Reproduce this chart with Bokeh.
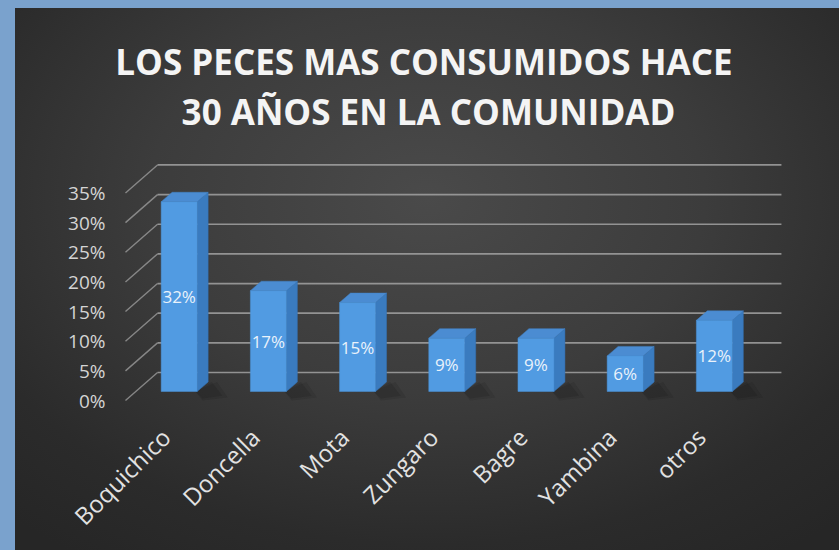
import math
from bokeh.plotting import figure
from bokeh.models import Range1d, LinearAxis, FixedTicker, InlineStyleSheet
from bokeh.core.properties import value
from bokeh.embed import file_html
from bokeh.resources import INLINE

# ---------------- data ----------------
categories = ["Boquichico", "Doncella", "Mota", "Zungaro", "Bagre", "Yambina", "otros"]
values = [32, 17, 15, 9, 9, 6, 12]
value_labels = ["32%", "17%", "15%", "9%", "9%", "6%", "12%"]
y_ticks = [0, 5, 10, 15, 20, 25, 30, 35]
y_tick_labels = ["0%", "5%", "10%", "15%", "20%", "25%", "30%", "35%"]
title_lines = ["LOS PECES MAS CONSUMIDOS  HACE", "30 AÑOS EN LA COMUNIDAD"]

# ---------------- 3D styling constants ----------------
HALF_W = 0.2018          # half width of bar front face (category units)
BDX, BDY = 0.123, 1.6    # bar depth offset
FRONT_DY = -1.518        # front plane offset (y units) relative to bar plane
BACK_DY = 3.204          # back wall offset
WALL_FRONT_X, WALL_BACK_X, WALL_RIGHT_X = -0.602, -0.243, 6.752
LABEL_SHIFT = 0.150      # category labels sit slightly left of the bars

X0, X1 = -0.770, 7.403
Y0, Y1 = -6.577, 64.59

xs = list(range(len(categories)))

css = """
:host {
  background: radial-gradient(ellipse 75% 80% at 50% 35%, #4a4a4a 0%, #3c3c3c 45%, #2b2b2b 80%, #262626 100%);
}
"""

p = figure(width=824, height=542,
           x_range=Range1d(X0, X1), y_range=Range1d(Y0, Y1),
           output_backend="svg", toolbar_location=None,
           x_axis_location=None, y_axis_location=None,
           min_border_left=95, min_border_right=0, min_border_top=0, min_border_bottom=120,
           border_fill_color=None, background_fill_color=None, outline_line_color=None,
           margin=(8, 0, 0, 15), stylesheets=[InlineStyleSheet(css=css)])
p.xgrid.visible = False
p.ygrid.visible = False

p.extra_y_ranges = {"front": Range1d(Y0 - FRONT_DY, Y1 - FRONT_DY)}
p.extra_x_ranges = {"lab": Range1d(X0 + LABEL_SHIFT, X1 + LABEL_SHIFT)}

# ---------------- walls / gridlines ----------------
grid_col = "#a2a2a2"
p.segment(x0=[WALL_BACK_X] * len(y_ticks), y0=[v + BACK_DY for v in y_ticks],
          x1=[WALL_RIGHT_X] * len(y_ticks), y1=[v + BACK_DY for v in y_ticks],
          line_color=grid_col, line_width=1.7, line_alpha=0.85)
p.segment(x0=[WALL_FRONT_X] * len(y_ticks), y0=[v + FRONT_DY for v in y_ticks],
          x1=[WALL_BACK_X] * len(y_ticks), y1=[v + BACK_DY for v in y_ticks],
          line_color=grid_col, line_width=1.4, line_alpha=0.75)

# ---------------- bars ----------------
lefts = [x - HALF_W for x in xs]
rights = [x + HALF_W for x in xs]

side_xs = [[r, r + BDX, r + BDX, r] for r in rights]
side_ys = [[0, BDY, v + BDY, v] for v in values]
top_xs = [[l, r, r + BDX, l + BDX] for l, r in zip(lefts, rights)]
top_ys = [[v, v, v + BDY, v + BDY] for v in values]

# soft shadows
for a, grow in ((0.10, 0.10), (0.14, 0.04)):
    p.patches(xs=[[r - 0.02, r + BDX + grow, r + BDX + 0.12 + grow, r + 0.06] for r in rights],
              ys=[[0, BDY, -0.5 - grow * 5, -1.0 - grow * 5] for _ in values],
              fill_color="#0e0e0e", fill_alpha=a, line_color=None)

p.patches(xs=side_xs, ys=side_ys, fill_color="#3a7bbf", line_color="#3573b5", line_width=0.5)
p.patches(xs=top_xs, ys=top_ys, fill_color="#4b8cd2", line_color="#4382c6", line_width=0.5)
p.quad(left=lefts, right=rights, bottom=[0] * len(values), top=values,
       fill_color="#519be2", line_color="#4a92d8", line_width=0.5)

# value labels
p.text(x=xs, y=[v / 2 for v in values], text=value_labels,
       text_font=value("Open Sans"), text_font_size="17px",
       text_align="center", text_baseline="middle", text_color="#eaf2fb")

# ---------------- title ----------------
p.text(x=[2.795, 2.795], y=[55.57, 47.30], text=title_lines,
       text_font=value("Open Sans"), text_font_size="35px", text_font_style="bold",
       text_align="center", text_baseline="alphabetic", text_color="#f4f4f4")

# ---------------- axes ----------------
yaxis = LinearAxis(y_range_name="front", ticker=FixedTicker(ticks=y_ticks),
                   major_label_overrides={t: s for t, s in zip(y_ticks, y_tick_labels)},
                   axis_line_color=None, major_tick_line_color=None, minor_tick_line_color=None,
                   major_tick_out=0, major_tick_in=0, major_label_standoff=5,
                   major_label_text_font="Open Sans", major_label_text_font_size="19px",
                   major_label_text_color="#d4d4d4")
p.add_layout(yaxis, "left")

xaxis = LinearAxis(x_range_name="lab", ticker=FixedTicker(ticks=xs),
                   major_label_overrides={i: c for i, c in zip(xs, categories)},
                   major_label_orientation=math.pi / 4,
                   axis_line_color=None, major_tick_line_color=None, minor_tick_line_color=None,
                   major_tick_out=0, major_tick_in=0, major_label_standoff=2,
                   major_label_text_font="Open Sans", major_label_text_font_size="24px",
                   major_label_text_color="#e2e2e2")
p.add_layout(xaxis, "below")

html = file_html(p, INLINE)
page_css = ("<style>html{background:linear-gradient(to right,#7aa2cd 15px,transparent 15px),"
            "linear-gradient(to bottom,#7aa2cd 8px,#262626 8px);}</style></head>")
html = html.replace("</head>", page_css, 1)
open("out.html", "w").write(html)
